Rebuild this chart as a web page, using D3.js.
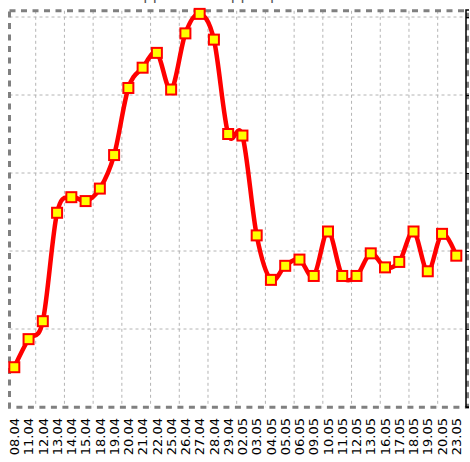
<!DOCTYPE html>
<html>
<head>
<meta charset="utf-8">
<script src="https://cdn.jsdelivr.net/npm/d3@7"></script>
<style>
  body { margin: 0; background: #ffffff; }
  svg { display: block; }
</style>
</head>
<body>
<div id="chart_div"></div>
<script>
var dates = ["08.04", "11.04", "12.04", "13.04", "14.04", "15.04", "18.04", "19.04",
             "20.04", "21.04", "22.04", "25.04", "26.04", "27.04", "28.04", "29.04",
             "02.05", "03.05", "04.05", "05.05", "06.05", "09.05", "10.05", "11.05",
             "12.05", "13.05", "16.05", "17.05", "18.05", "19.05", "20.05", "23.05"];
var prices = [0.51, 0.87, 1.10, 2.49, 2.69, 2.64, 2.80, 3.23,
              4.09, 4.35, 4.54, 4.07, 4.79, 5.04, 4.71, 3.50,
              3.48, 2.20, 1.63, 1.81, 1.89, 1.68, 2.25, 1.68,
              1.68, 1.97, 1.79, 1.86, 2.25, 1.74, 2.22, 1.94];
var y_ticks = [0, 1, 2, 3, 4, 5];
var title = "Support and upper price levels";

var width = 470, height = 462;
// frame edges of the plot area
var frame_left = 9.5, frame_right = 467.5, frame_top = 10.8, frame_bottom = 407.2;

var svg = d3.select("#chart_div")
  .append("svg")
    .attr("width", width)
    .attr("height", height)
    .style("font-family", "'DejaVu Sans', sans-serif");

var x = d3.scalePoint()
    .domain(dates)
    .range([14.3, 456.3]);
var y = d3.scaleLinear()
    .domain([0, 5])
    .range([407, 17]);
// vertical grid is split in 16 equal parts, not tied to the dates
var gx = d3.scaleLinear()
    .domain([0, 16])
    .range([7, 466.4]);

// title, mostly cut off by the top of the page
svg.append("text")
    .attr("x", 240)
    .attr("y", 0)
    .attr("text-anchor", "middle")
    .style("font-size", "15px")
    .style("fill", "#555555")
    .text(title);

// grid
svg.append("g")
  .selectAll("line")
  .data(d3.range(1, 16))
  .enter()
  .append("line")
    .attr("x1", function(d) { return gx(d); })
    .attr("x2", function(d) { return gx(d); })
    .attr("y1", frame_top)
    .attr("y2", frame_bottom)
    .attr("stroke", "#b4b4b4")
    .attr("stroke-width", 1)
    .attr("stroke-dasharray", "3,3");
svg.append("g")
  .selectAll("line")
  .data(y_ticks.slice(1))
  .enter()
  .append("line")
    .attr("x1", frame_left)
    .attr("x2", frame_right)
    .attr("y1", function(d) { return y(d); })
    .attr("y2", function(d) { return y(d); })
    .attr("stroke", "#b4b4b4")
    .attr("stroke-width", 1)
    .attr("stroke-dasharray", "3,3");

// dashed frame
svg.append("rect")
    .attr("x", frame_left)
    .attr("y", frame_top)
    .attr("width", frame_right - frame_left)
    .attr("height", frame_bottom - frame_top)
    .attr("fill", "none")
    .attr("stroke", "#808080")
    .attr("stroke-width", 3)
    .attr("stroke-dasharray", "6,5.5");

// right axis (labels fall outside the page)
var y_axis = svg.append("g")
    .attr("transform", "translate(466,0)")
    .call(d3.axisRight(y).tickValues(y_ticks).tickSize(3).tickFormat(""));
y_axis.select(".domain")
    .attr("d", "M3,10H0V407H3")
    .attr("stroke", "#000000")
    .attr("stroke-width", 1.5);

// date labels
svg.append("g")
  .selectAll("text")
  .data(dates)
  .enter()
  .append("text")
    .attr("transform", function(d) { return "translate(" + x(d) + ",418) rotate(-90)"; })
    .attr("dy", "0.36em")
    .attr("text-anchor", "end")
    .style("font-size", "13px")
    .style("fill", "#000000")
    .text(function(d) { return d; });

// price line
var line = d3.line()
    .x(function(d, i) { return x(dates[i]); })
    .y(function(d) { return y(d); })
    .curve(d3.curveCardinal.tension(0));
svg.append("path")
    .datum(prices)
    .attr("d", line)
    .attr("fill", "none")
    .attr("stroke", "#ff0000")
    .attr("stroke-width", 4.5)
    .attr("stroke-linejoin", "round");

// markers
var size = 10;
svg.append("g")
  .selectAll("rect")
  .data(prices)
  .enter()
  .append("rect")
    .attr("x", function(d, i) { return x(dates[i]) - size / 2; })
    .attr("y", function(d) { return y(d) - size / 2; })
    .attr("width", size)
    .attr("height", size)
    .attr("fill", "#ffff00")
    .attr("stroke", "#ff0000")
    .attr("stroke-width", 2);
</script>
</body>
</html>
